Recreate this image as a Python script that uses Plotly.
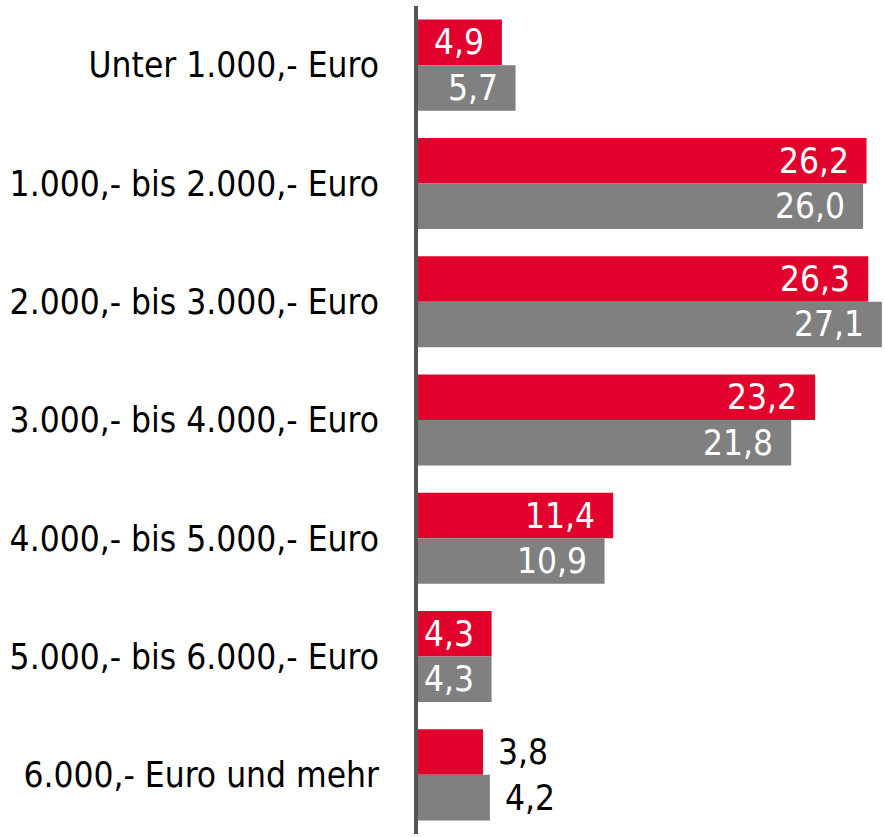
import plotly.graph_objects as go

categories = [
    "Unter 1.000,- Euro",
    "1.000,- bis 2.000,- Euro",
    "2.000,- bis 3.000,- Euro",
    "3.000,- bis 4.000,- Euro",
    "4.000,- bis 5.000,- Euro",
    "5.000,- bis 6.000,- Euro",
    "6.000,- Euro und mehr",
]
series_red = [4.9, 26.2, 26.3, 23.2, 11.4, 4.3, 3.8]
series_gray = [5.7, 26.0, 27.1, 21.8, 10.9, 4.3, 4.2]

RED = "#E2002D"
GRAY = "#808080"
FONT = "DejaVu Sans Condensed"

fig = go.Figure()
fig.add_trace(go.Bar(y=categories, x=series_red, orientation="h",
                     marker=dict(color=RED, line=dict(width=0)), name="A"))
fig.add_trace(go.Bar(y=categories, x=series_gray, orientation="h",
                     marker=dict(color=GRAY, line=dict(width=0)), name="B"))

BAR_PX = 22.75
annotations = []
for vals, ysh in ((series_red, BAR_PX), (series_gray, -BAR_PX)):
    for c, v in zip(categories, vals):
        txt = f"{v:.1f}".replace(".", ",")
        inside = v >= 4.25
        annotations.append(dict(
            x=v, y=c, xref="x", yref="y", text=txt, showarrow=False,
            xanchor="right" if inside else "left",
            xshift=-16 if inside else 13, yshift=ysh,
            font=dict(family=FONT, size=35, color="white" if inside else "black"),
        ))

fig.update_layout(
    width=885, height=837,
    margin=dict(l=0, r=0, t=6, b=3, autoexpand=False),
    barmode="group", bargap=0.23, bargroupgap=0,
    showlegend=False,
    plot_bgcolor="white", paper_bgcolor="white",
    annotations=annotations,
    font=dict(family=FONT, color="black"),
)
fig.update_xaxes(domain=[418 / 885, 1], range=[0, 27.28], visible=False,
                 showgrid=False, zeroline=False)
fig.update_yaxes(autorange="reversed", showline=True, linewidth=4, linecolor="#555555",
                 showgrid=False, zeroline=False, ticks="", ticklabelstandoff=28,
                 automargin=False,
                 tickfont=dict(family=FONT, size=35, color="black"))

fig.write_html("out.html",
               config={"displayModeBar": False},
               post_script="document.body.style.margin='0';document.body.style.overflow='hidden';")
